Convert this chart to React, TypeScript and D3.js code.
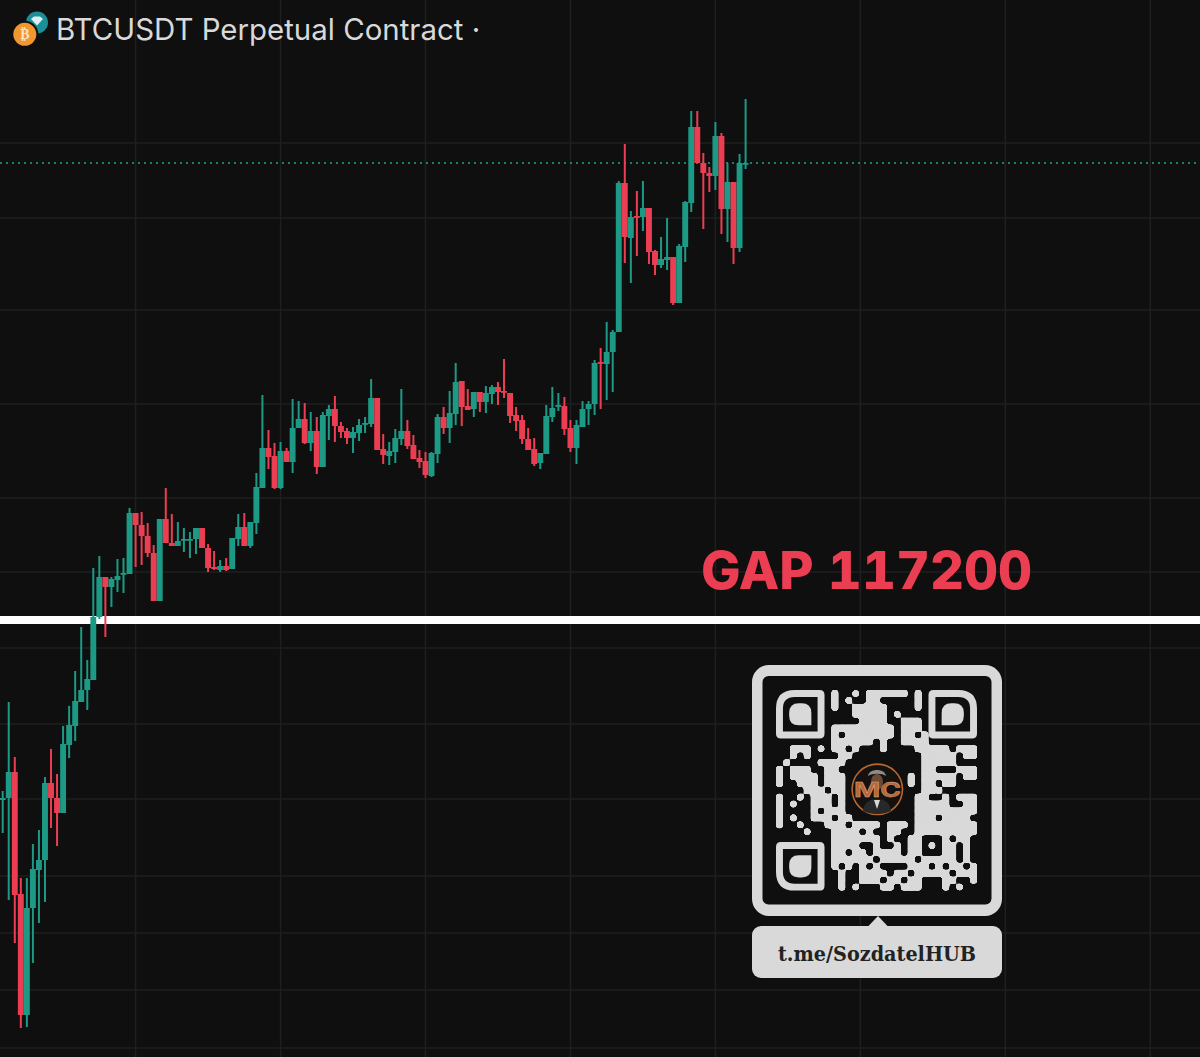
import React from "react";
import * as d3 from "d3";

const opens = [116840,116844,116896,116652,116410,116624,116700,116720,116874,116844,116814,116950,116988,117036,117060,117080,117206,117286,117266,117280,117292,117292,117414,117390,117368,117334,117238,117402,117354,117348,117360,117360,117362,117384,117344,117306,117300,117308,117302,117362,117386,117348,117394,117464,117544,117528,117464,117538,117516,117584,117602,117554,117578,117506,117608,117622,117588,117578,117564,117574,117592,117592,117644,117542,117528,117536,117562,117578,117550,117524,117518,117488,117532,117606,117584,117612,117678,117628,117622,117656,117636,117652,117666,117658,117654,117610,117600,117562,117542,117514,117532,117606,117628,117628,117584,117544,117586,117622,117632,117716,117712,117736,117776,118074,117964,118008,118006,118024,117938,117910,117920,117926,117834,117946,118034,118186,118114,118094,118088,118168,118022,118076,117944,118114];
const closes = [116844,116896,116650,116410,116624,116702,116720,116874,116844,116814,116952,116990,117038,117060,117082,117206,117286,117266,117282,117288,117294,117414,117390,117368,117334,117238,117402,117354,117348,117358,117362,117362,117384,117344,117304,117302,117308,117300,117364,117386,117348,117396,117466,117544,117526,117464,117538,117516,117584,117602,117554,117578,117506,117610,117622,117588,117576,117564,117576,117590,117594,117644,117540,117530,117538,117564,117578,117548,117522,117516,117490,117534,117606,117584,117614,117676,117626,117620,117656,117636,117654,117666,117656,117656,117608,117598,117562,117540,117512,117534,117608,117624,117630,117582,117544,117590,117622,117632,117714,117714,117736,117776,118074,117966,118006,118006,118024,117936,117910,117922,117926,117834,117948,118036,118186,118114,118094,118088,118168,118022,118076,117944,118114,118114];
const highs = [116858,117036,116926,116684,116684,116752,116780,116886,116942,116892,116988,117028,117098,117186,117120,117304,117328,117286,117286,117322,117324,117424,117414,117416,117394,117350,117402,117464,117412,117396,117384,117376,117384,117384,117352,117338,117320,117324,117364,117412,117414,117396,117494,117650,117580,117554,117556,117544,117642,117638,117634,117616,117606,117616,117630,117648,117596,117584,117586,117602,117606,117682,117644,117572,117556,117582,117662,117600,117570,117540,117536,117536,117612,117626,117658,117714,117678,117662,117656,117656,117668,117670,117676,117722,117654,117626,117610,117584,117564,117534,117630,117666,117654,117646,117600,117600,117638,117638,117720,117744,117796,117780,118078,118152,118018,118058,118078,118024,117940,117966,118004,117926,117952,118038,118218,118218,118134,118106,118196,118174,118114,118076,118132,118242];
const lows = [116774,116640,116554,116384,116386,116514,116594,116636,116784,116748,116814,116924,116958,117036,117020,117080,117202,117166,117226,117256,117254,117292,117306,117310,117326,117238,117238,117354,117348,117348,117336,117324,117332,117344,117296,117300,117296,117298,117302,117348,117348,117344,117372,117464,117502,117462,117462,117516,117494,117584,117552,117538,117492,117506,117560,117556,117564,117552,117534,117558,117574,117586,117540,117512,117510,117514,117550,117542,117522,117504,117484,117486,117514,117572,117554,117590,117588,117620,117606,117616,117614,117632,117630,117644,117594,117578,117552,117540,117508,117502,117532,117596,117618,117570,117536,117512,117586,117590,117610,117622,117640,117656,117776,117914,117874,117928,117978,117912,117890,117904,117900,117830,117834,117916,118016,118114,117982,118056,118060,117972,117956,117912,117936,118102];

const gridPrices = [118154,118004,117820,117632,117444,117296,117144,116992,116842,116688,116574,116460,116344];
const gridIndexes = [22,46,70,94,118,142,166,190];
const lastPrice = 118114;
const gapPrice = 117200;
const titleText = "BTCUSDT Perpetual Contract \u00B7";
const gapText = "GAP 117200";
const linkText = "t.me/SozdatelHUB";

const qrRows = [
  "........#..o.######.#........",
  "........#.o..##.....#........",
  "........#..#####....#........",
  "...........#####.o...........",
  "............####..###........",
  "........#########.###........",
  "........#.##o####.##.#.......",
  "........######.#..####.......",
  "..###.o.##.#...#....#####.###",
  "..#.#....##..........#####.##",
  ".o....####...........#####...",
  "#.###..##............##...###",
  "#.####.###.........#.##o##.##",
  "#..###.###.........#.##.##...",
  "....###.##...........##o.....",
  "#..o.###.#..........##..#.###",
  "#.o..###.#..........#####..##",
  "#....#.###..........#########",
  "#.o..###.##.........###.####.",
  "#..o...###.####.###.#########",
  "....o...####.#..##..#########",
  "........#######.#..##...#.##.",
  "........####..o..#.##.o.##.#.",
  "........##.##.####.##...##.#.",
  "........######.#####.#####.#.",
  "........#.#.#.#....###.#.##.#",
  ".........#..####.##.#####.###",
  ".........#..###.##.##...##..#",
  ".........#.o...##.###...#.o..",
];
const qrIndex = d3.range(29);

const BG = "#0f0f0f";
const GRID = "#1f1f1f";
const GREEN = "#1c9a85";
const RED = "#ec3e53";
const LIGHT = "#d9d9d9";

const W = 1200;
const H = 1057;
const x = d3.scaleLinear().domain([0, 123]).range([2.7, 745.6]);
const y = d3.scaleLinear().domain([118440, 117200]).range([0, 620]);
const qx = d3.scaleBand<number>().domain(qrIndex).range([776, 977]);
const qy = d3.scaleBand<number>().domain(qrIndex).range([690, 890.5]);

function finderPath(x0: number, y0: number, s: number, r: number, corner: "tl" | "tr" | "bl") {
  const rr = (c: string) => (c === corner ? r : 1.5);
  const a = rr("tl"), b = rr("tr"), d = rr("bl"), e = 1.5;
  return `M${x0 + a},${y0}H${x0 + s - b}Q${x0 + s},${y0} ${x0 + s},${y0 + b}V${y0 + s - e}Q${x0 + s},${y0 + s} ${x0 + s - e},${y0 + s}H${x0 + d}Q${x0},${y0 + s} ${x0},${y0 + s - d}V${y0 + a}Q${x0},${y0} ${x0 + a},${y0}Z`;
}

function Finder({ col, row, corner }: { col: number; row: number; corner: "tl" | "tr" | "bl" }) {
  const m = qx.bandwidth();
  const x0 = qx(col)!;
  const y0 = qy(row)!;
  const sharp = corner === "tl" ? "br" : corner === "tr" ? "bl" : "tr";
  const s = 3.2 * m;
  const ix = x0 + 1.9 * m;
  const iy = y0 + 1.9 * m;
  const rad = 1.4 * m;
  const corners: Record<string, number> = { tl: rad, tr: rad, bl: rad, br: rad };
  corners[sharp] = 0.5;
  const inner = `M${ix + corners.tl},${iy}H${ix + s - corners.tr}Q${ix + s},${iy} ${ix + s},${iy + corners.tr}V${iy + s - corners.br}Q${ix + s},${iy + s} ${ix + s - corners.br},${iy + s}H${ix + corners.bl}Q${ix},${iy + s} ${ix},${iy + s - corners.bl}V${iy + corners.tl}Q${ix},${iy} ${ix + corners.tl},${iy}Z`;
  return (
    <g>
      <path d={finderPath(x0 + m / 2, y0 + m / 2, 6 * m, 2.2 * m, corner)} fill="none" stroke={LIGHT} strokeWidth={m} />
      <path d={inner} fill={LIGHT} />
    </g>
  );
}

export default function App() {
  const m = qx.bandwidth();
  return (
    <>
      <style>{`html,body{margin:0;padding:0;background:${BG};overflow:hidden}`}</style>
      <svg width={W} height={H} viewBox={`0 0 ${W} ${H}`} style={{ display: "block", position: "fixed", left: 0, top: 0 }}>
        <defs>
          <filter id="goo" x="-5%" y="-5%" width="110%" height="110%" colorInterpolationFilters="sRGB">
            <feGaussianBlur stdDeviation={1.4} />
            <feColorMatrix values="1 0 0 0 0  0 1 0 0 0  0 0 1 0 0  0 0 0 12 -5.5" />
          </filter>
        </defs>
        <rect width={W} height={H} fill={BG} />
        {gridPrices.map((p) => (
          <line key={p} x1={0} x2={W} y1={y(p)} y2={y(p)} stroke={GRID} strokeWidth={1.5} />
        ))}
        {gridIndexes.map((i) => (
          <line key={i} x1={x(i)} x2={x(i)} y1={0} y2={H} stroke={GRID} strokeWidth={1.5} />
        ))}
        <line x1={0} x2={W} y1={y(lastPrice)} y2={y(lastPrice)} stroke="#22a58f" strokeWidth={1.7} strokeDasharray="2 4" />
        <line x1={0} x2={W} y1={y(gapPrice)} y2={y(gapPrice)} stroke="#ffffff" strokeWidth={8} />

        {opens.map((o, i) => {
          const c = closes[i];
          const color = c >= o ? GREEN : RED;
          const top = y(Math.max(o, c));
          const bot = y(Math.min(o, c));
          return (
            <g key={i} fill={color}>
              <rect x={x(i) - 1} width={2} y={y(highs[i])} height={y(lows[i]) - y(highs[i])} />
              <rect x={x(i) - 2.95} width={5.9} y={top} height={Math.max(bot - top, 1.8)} />
            </g>
          );
        })}

        {/* header */}
        <circle cx={37} cy={22.5} r={11} fill="#1b8f97" />
        <path d="M31,19l3,-2.5h6l3,2.5l-6,6.5z" fill="#dfeff0" />
        <circle cx={24.8} cy={34.3} r={13.5} fill={BG} />
        <circle cx={24.8} cy={34.3} r={11.5} fill="#f2962f" />
        <text x={24.8} y={39.3} textAnchor="middle" fontFamily="'DejaVu Sans'" fontWeight={700} fontSize={14} fill="#fbe3c4">{"\u20BF"}</text>
        <text x={56} y={40} fontFamily="Inter" fontSize={29.45} fill={LIGHT}>{titleText}</text>

        <text x={701} y={589} fontFamily="Inter" fontWeight={800} fontSize={52} textLength={331} lengthAdjust="spacingAndGlyphs" style={{ fontFeatureSettings: "'tnum'" }} fill={RED}>{gapText}</text>

        {/* QR card */}
        <rect x={752} y={665} width={250} height={251} rx={17} fill={LIGHT} />
        <rect x={762.5} y={676} width={229} height={228.5} rx={6} fill={BG} />
        <path d="M868,926.5L878,916L888,926.5Z" fill={LIGHT} />
        <rect x={752} y={926} width={250} height={52} rx={9} fill={LIGHT} />
        <text x={877} y={961} textAnchor="middle" fontFamily="'DejaVu Serif'" fontWeight={700} fontSize={20} textLength={198} lengthAdjust="spacingAndGlyphs" fill="#222222">{linkText}</text>

        <g filter="url(#goo)">
          {qrRows.map((row, r) =>
            row.split("").map((ch, c) => {
              if (ch === "#") {
                return <rect key={`${r}-${c}`} x={qx(c)! - 0.15} y={qy(r)! - 0.15} width={m + 0.3} height={m + 0.3} fill={LIGHT} />;
              }
              if (ch === "o") {
                return <circle key={`${r}-${c}`} cx={qx(c)! + m / 2} cy={qy(r)! + m / 2} r={m * 0.55} fill={LIGHT} />;
              }
              return null;
            })
          )}
        </g>
        <Finder col={0} row={0} corner="tl" />
        <Finder col={22} row={0} corner="tr" />
        <Finder col={0} row={22} corner="bl" />

        {/* logo */}
        <circle cx={877.3} cy={789.3} r={25.2} fill="#15110f" stroke="#b8682f" strokeWidth={1.6} />
        <path d="M863,811c1,-9 7,-12 14,-12s13,3 14,12c-8,4 -20,4 -28,0z" fill="#27282a" />
        <path d="M874,800l3,9l3,-9z" fill="#d8d8d2" />
        <ellipse cx={877} cy={782} rx={6} ry={8} fill="#6a4a38" />
        <path d="M868,776c1,-8 17,-8 18,0c-4,-3 -14,-3 -18,0z" fill="#8c8c88" />
        <text x={877.5} y={797} textAnchor="middle" fontFamily="Inter" fontWeight={700} fontSize={20} textLength={47} lengthAdjust="spacingAndGlyphs" fill="#b8673a" stroke="#d8b090" strokeWidth={0.4}>MC</text>
      </svg>
    </>
  );
}
